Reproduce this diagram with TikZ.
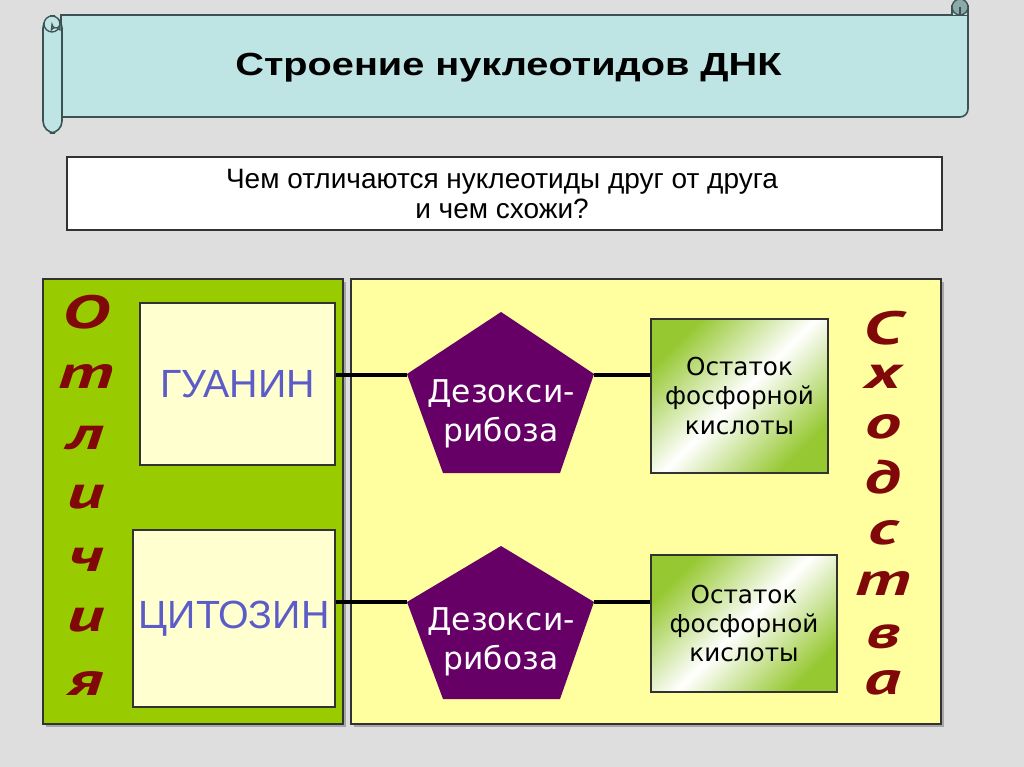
\documentclass[tikz,border=0pt]{standalone}
\usepackage{fontspec}
\setmainfont{Liberation Sans}
\newfontfamily\dvfont{DejaVu Sans}
\newfontfamily\ptfont{PT Sans}
\definecolor{bg}{RGB}{222,222,222}
\definecolor{scrollfill}{RGB}{190,228,228}
\definecolor{scrollline}{RGB}{60,82,82}
\definecolor{scrollcurl}{RGB}{140,170,170}
\definecolor{greenpanel}{RGB}{153,204,0}
\definecolor{yellowpanel}{RGB}{255,255,160}
\definecolor{paleyellow}{RGB}{255,255,208}
\definecolor{basetext}{RGB}{92,92,200}
\definecolor{dpurple}{RGB}{102,0,102}
\definecolor{letterred}{RGB}{128,8,8}
\definecolor{acidgreen}{RGB}{150,200,50}
\definecolor{edge}{RGB}{50,50,50}
\tikzset{
  panel/.style={draw=edge, line width=1pt},
  basebox/.style={draw=edge, line width=0.8pt, fill=paleyellow, text=basetext,
    font=\fontsize{29.5}{32}\selectfont, inner sep=0pt},
  acidbox/.style={draw=edge, line width=0.8pt, shading=axis, top color=acidgreen,
    bottom color=acidgreen, middle color=white, shading angle=45,
    align=center, font=\dvfont\fontsize{18.5}{22}\selectfont, inner sep=0pt},
  pentxt/.style={text=white, align=center, font=\dvfont\fontsize{23.5}{29.5}\selectfont, inner sep=0pt},
  conn/.style={line width=2.4pt, black},
  vlet/.style={text=letterred, font=\ptfont\bfseries\itshape\fontsize{35}{35}\selectfont, inner sep=0pt},
}
\begin{document}
\begin{tikzpicture}[x=0.75pt,y=-0.75pt]
\useasboundingbox (0,0) rectangle (1024,767);
\fill[bg] (0,0) rectangle (1024,767);

% ---- title scroll ----
\filldraw[fill=scrollfill, draw=scrollline, line width=1.2pt]
  (61,15) -- (968,15) -- (968,109) arc[start angle=0, end angle=90, radius=8] -- (61,117) -- cycle;
\filldraw[fill=scrollfill, draw=scrollline, line width=1.2pt]
  (952,15) -- (952,6) -- (968,6) -- (968,15);
\filldraw[fill=scrollcurl, draw=scrollline, line width=1pt] (960,7) circle[radius=8];
\draw[scrollline, line width=1pt] (960,7) -- (960,15);
\filldraw[fill=scrollfill, draw=scrollline, line width=1.2pt, rounded corners=9]
  (43,16) rectangle (62,133);
\filldraw[fill=scrollfill, draw=scrollline, line width=1pt] (52,24) circle[radius=8];
\filldraw[fill=scrollcurl, draw=scrollline, line width=0.8pt]
  (52,24) arc[start angle=180, end angle=0, radius=4] -- (60,30) arc[start angle=-30, end angle=-150, radius=5] -- cycle;
\node[font=\bfseries\fontsize{24}{28}\selectfont, inner sep=0pt] (title) at (508.5,68)
  {\scalebox{1.24}[1]{Строение нуклеотидов ДНК}};

% ---- question ----
\node[draw=edge, line width=0.8pt, fill=white, minimum width={875*0.75pt}, minimum height={73*0.75pt},
  inner sep=0pt] (qbox) at (504.5,193.5) {};
\node[align=center, font=\fontsize{21}{22.5}\selectfont, inner sep=0pt] (qtext) at (502,194)
  {Чем отличаются нуклеотиды друг от друга\\и чем схожи?};

% ---- panels ----
\fill[gray!70] (46,282) rectangle (346,727);
\fill[gray!70] (354,282) rectangle (944,727);
\filldraw[panel, fill=greenpanel] (43,279) rectangle (343,724);
\filldraw[panel, fill=yellowpanel] (351,279) rectangle (941,724);

% ---- bases ----
\node[basebox, minimum width={195*0.75pt}, minimum height={162*0.75pt}] (gua) at (237.5,384) {ГУАНИН};
\node[basebox, minimum width={202*0.75pt}, minimum height={177*0.75pt}] (cyt) at (234,618.5) {ЦИТОЗИН};

% ---- deoxyribose pentagons ----
\begin{scope}[shift={(501,312)}]
  \fill[dpurple] (0,0) -- (93,62) -- (59,161) -- (-58,161) -- (-94,62) -- cycle;
  \coordinate (d1w) at (-94,63);
  \coordinate (d1e) at (93,63);
  \node[pentxt] (d1) at (0,102) {Дезокси-\\рибоза};
\end{scope}
\begin{scope}[shift={(501,546)}]
  \fill[dpurple] (0,0) -- (93,56) -- (59,153) -- (-58,153) -- (-94,56) -- cycle;
  \coordinate (d2w) at (-94,56);
  \coordinate (d2e) at (93,56);
  \node[pentxt] (d2) at (0,96) {Дезокси-\\рибоза};
\end{scope}

% ---- phosphoric acid ----
\node[acidbox, minimum width={177*0.75pt}, minimum height={154*0.75pt}] (p1) at (739.5,396)
  {Остаток\\фосфорной\\кислоты};
\node[acidbox, minimum width={186*0.75pt}, minimum height={137*0.75pt}] (p2) at (744,623.5)
  {Остаток\\фосфорной\\кислоты};

% ---- connectors ----
\draw[conn] (gua.east |- d1w) -- (d1w);
\draw[conn] (d1e) -- (p1.west |- d1e);
\draw[conn] (cyt.east |- d2w) -- (d2w);
\draw[conn] (d2e) -- (p2.west |- d2e);

% ---- vertical words ----
\foreach \ch/\yy [count=\i] in {О/312, т/377, л/438, и/497, ч/560, и/620, я/683} {
  \node[vlet] (l\i) at (86,\yy) {\scalebox{1.55}[1]{\ch}};
}
\foreach \ch/\yy [count=\i] in {С/328, х/377, о/427, д/477, с/533, т/583, в/637, а/683} {
  \node[vlet] (r\i) at (883,\yy) {\scalebox{1.55}[1]{\ch}};
}
\end{tikzpicture}
\end{document}
